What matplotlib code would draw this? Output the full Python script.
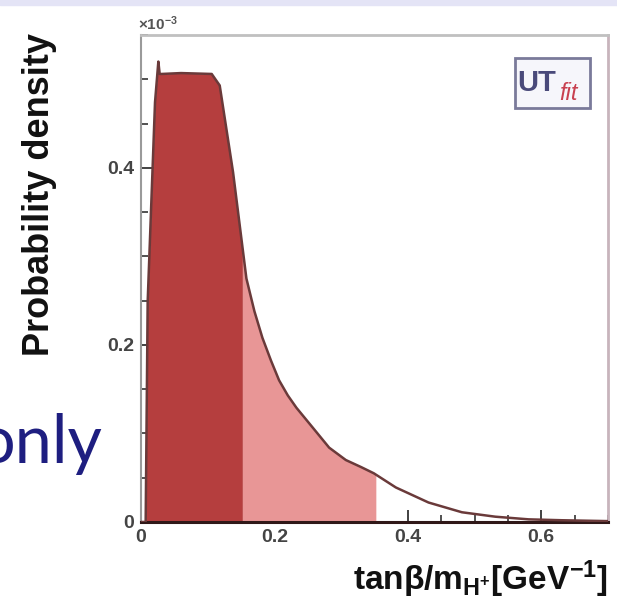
import numpy as np
import matplotlib
matplotlib.use("Agg")
import matplotlib.pyplot as plt
from matplotlib.patches import Rectangle
from matplotlib.ticker import MultipleLocator

#--------data begin--------
# tan(beta)/m_H+ [GeV^-1] vs probability density (x 1e-3)
x_pts = [0.0, 0.007, 0.010, 0.021, 0.026, 0.028, 0.031, 0.06, 0.106, 0.118,
         0.138, 0.151, 0.158, 0.170, 0.182, 0.195, 0.207, 0.220, 0.233, 0.257,
         0.282, 0.307, 0.330, 0.349, 0.382, 0.431, 0.481, 0.531, 0.581, 0.630, 0.70]
y_pts = [0.0, 0.0, 0.249, 0.474, 0.520, 0.506, 0.506, 0.507, 0.506, 0.493,
         0.395, 0.317, 0.275, 0.238, 0.208, 0.182, 0.160, 0.143, 0.129, 0.107,
         0.084, 0.070, 0.062, 0.055, 0.039, 0.022, 0.011, 0.006, 0.003, 0.002, 0.001]
cut_68 = 0.152
cut_95 = 0.352
xticks = [0, 0.2, 0.4, 0.6]
xtick_labels = ["0", "0.2", "0.4", "0.6"]
yticks = [0, 0.2, 0.4]
ytick_labels = ["0", "0.2", "0.4"]
#--------data end--------

plt.rcParams["font.family"] = ["Liberation Sans", "DejaVu Sans"]
plt.rcParams["mathtext.fontset"] = "custom"
plt.rcParams["mathtext.bf"] = "Liberation Sans:bold"
plt.rcParams["mathtext.rm"] = "Liberation Sans:bold"
plt.rcParams["mathtext.default"] = "bf"

W, H = 617, 610
fig = plt.figure(figsize=(W / 100, H / 100), dpi=100)

# faint band of the slide at the top
fig.patches.append(Rectangle((0, 1 - 5 / H), 1, 5 / H, transform=fig.transFigure,
                             color="#e4e4f6", zorder=0))

ax = fig.add_axes([141 / W, 1 - 522 / H, (608 - 141) / W, (522 - 35) / H])

xs = np.array(x_pts)
ys = np.array(y_pts)

def band(lo, hi):
    inner = (xs > lo) & (xs < hi)
    bx = np.concatenate([[lo], xs[inner], [hi]])
    by = np.concatenate([[np.interp(lo, xs, ys)], ys[inner], [np.interp(hi, xs, ys)]])
    return bx, by

bx, by = band(0.0, cut_68)
ax.fill_between(bx, 0, by, color="#b53e3e", lw=0, zorder=2)
bx, by = band(cut_68, cut_95)
ax.fill_between(bx, 0, by, color="#e89696", lw=0, zorder=2)
ax.plot(xs, ys, color="#6a3a3a", lw=1.8, zorder=3)

ax.set_xlim(0, 0.7)
ax.set_ylim(0, 0.55)

ax.set_xticks(xticks)
ax.set_xticklabels(xtick_labels)
ax.set_yticks(yticks)
ax.set_yticklabels(ytick_labels)
ax.xaxis.set_minor_locator(MultipleLocator(0.05))
ax.yaxis.set_minor_locator(MultipleLocator(0.05))
ax.tick_params(which="major", direction="in", length=9, width=1.3, color="#333333",
               labelsize=14, labelcolor="#444444", pad=5, top=False, right=False)
ax.tick_params(which="minor", direction="in", length=5, width=1.2, color="#333333",
               top=False, right=False)
for lab in ax.get_xticklabels() + ax.get_yticklabels():
    lab.set_fontweight("bold")

ax.spines["left"].set_color("#9a9a9a")
ax.spines["left"].set_linewidth(1.5)
ax.spines["top"].set_color("#c0c0c0")
ax.spines["top"].set_linewidth(2)
ax.spines["right"].set_color("#c8b4bc")
ax.spines["right"].set_linewidth(2)
ax.spines["bottom"].set_color("#301818")
ax.spines["bottom"].set_linewidth(2.2)

# axis titles
fig.text(40 / W, 1 - 195 / H, "Probability density", rotation=90, ha="center",
         va="center", fontsize=26, fontweight="bold", color="#111111")
fig.text(608 / W, 1 - 590 / H, r"$tan\beta/m_{H^{+}}[GeV^{-1}]$", ha="right",
         va="baseline", fontsize=24, color="#111111")
fig.text(138 / W, 1 - 30 / H, r"$\times10^{-3}$", ha="left", va="baseline",
         fontsize=11, color="#555555")

# UTfit logo
fig.patches.append(Rectangle((515 / W, 1 - 108 / H), 75 / W, 50 / H,
                             transform=fig.transFigure, fc="#f6f6fb", ec="#7a7a9a",
                             lw=2, zorder=5))
fig.text(517 / W, 1 - 91 / H, "UT", ha="left", va="baseline", fontsize=21,
         fontweight="bold", color="#4a4a7a", zorder=6)
fig.text(559 / W, 1 - 100 / H, "fit", ha="left", va="baseline", fontsize=17,
         style="italic", color="#c84050", zorder=6)

# slide fragment on the left
fig.text(102 / W, 1 - 463 / H, "only", ha="right", va="baseline", fontsize=48,
         family="Lato", color="#1e1e80")

fig.savefig("out.png", dpi=100)
